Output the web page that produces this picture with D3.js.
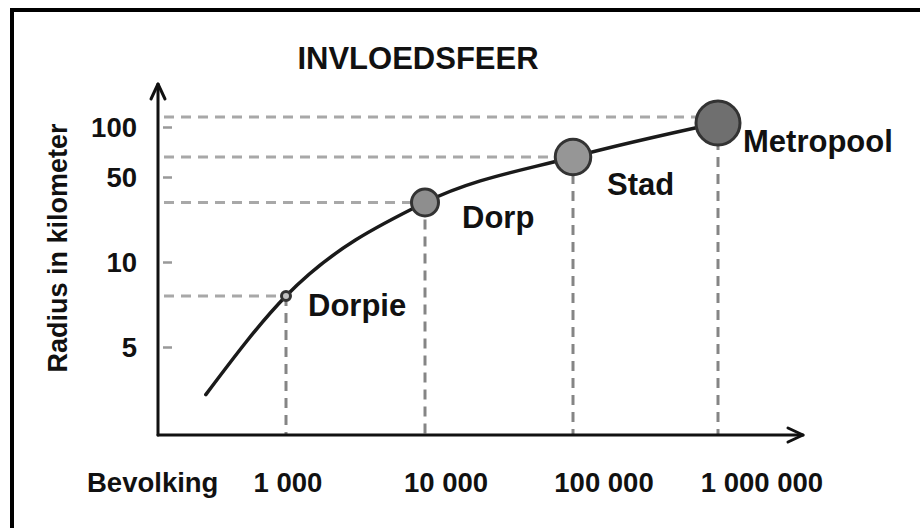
<!DOCTYPE html>
<html>
<head>
<meta charset="utf-8">
<script src="https://cdn.jsdelivr.net/npm/d3@7"></script>
<style>
  html, body { margin: 0; padding: 0; background: #fff; }
  svg { display: block; }
  text { font-family: "Liberation Sans", Arial, sans-serif; font-weight: bold; fill: #111; }
</style>
</head>
<body>
<svg id="chart" width="920" height="528"></svg>
<script>
// ---- data ----
const settlements = ["Dorpie", "Dorp", "Stad", "Metropool"];
const population = [1000, 10000, 100000, 1000000];
const radiusKm = [8, 38, 70, 104];
const guideKm = [8, 38, 70, 110];
const yTicks = [5, 10, 50, 100];
const xTickLabels = ["1 000", "10 000", "100 000", "1 000 000"];
const curvePopulation = [265, 1000, 10000, 100000, 1000000];
const curveRadius = [2.2, 8, 38, 70, 104];
const titleText = "INVLOEDSFEER";
const yTitle = "Radius in kilometer";
const xTitle = "Bevolking";

// ---- layout ----
const svg = d3.select("#chart");
const axisX0 = 158, axisY0 = 435;

const x = d3.scaleLog().domain([1e3, 1e4, 1e5, 1e6]).range([286, 425, 573, 718]);
const xLabel = d3.scaleLog().domain([1e3, 1e6]).range([288, 762]);
const y = d3.scaleLinear().domain([5, 10, 50, 100]).range([347, 262, 177, 127]);
const r = d3.scaleLog().domain([1e3, 1e4, 1e6]).range([6, 15, 23.5]);
const fill = d3.scaleLog().domain([1e3, 1e4, 1e5, 1e6])
  .range(["#c2c2c2", "#8e8e8e", "#969696", "#6f6f6f"]);

// frame (only top and left visible)
svg.append("rect").attr("x", 12).attr("y", 10).attr("width", 1000).attr("height", 1000)
  .attr("fill", "none").attr("stroke", "#000").attr("stroke-width", 4);

// title
svg.append("text").attr("x", 418).attr("y", 69).attr("text-anchor", "middle")
  .style("font-size", "31px").text(titleText);

// y title
svg.append("text").attr("transform", "translate(67,248) rotate(-90)")
  .attr("text-anchor", "middle").style("font-size", "27px").text(yTitle);

// x title
svg.append("text").attr("x", 87).attr("y", 492).style("font-size", "27.5px").text(xTitle);

// horizontal dashed guides
svg.append("g").selectAll("line").data(settlements).join("line")
  .attr("x1", 164).attr("x2", (d, i) => x(population[i]))
  .attr("y1", (d, i) => y(guideKm[i])).attr("y2", (d, i) => y(guideKm[i]))
  .attr("stroke", "#a8a8a8").attr("stroke-width", 3).attr("stroke-dasharray", "10,7");

// vertical dashed guides
svg.append("g").selectAll("line").data(settlements).join("line")
  .attr("x1", (d, i) => x(population[i])).attr("x2", (d, i) => x(population[i]))
  .attr("y1", (d, i) => y(radiusKm[i])).attr("y2", axisY0)
  .attr("stroke", "#858585").attr("stroke-width", 3).attr("stroke-dasharray", "10,7");

// y ticks (small gray marks)
const yTickG = svg.append("g").attr("transform", `translate(${axisX0 + 5},0)`)
  .call(d3.axisRight(y).tickValues(yTicks).tickSize(9).tickFormat(""));
yTickG.select(".domain").remove();
yTickG.selectAll("line").attr("stroke", "#999").attr("stroke-width", 2.5);

// y tick labels
const yLabG = svg.append("g").attr("transform", "translate(137,0)")
  .call(d3.axisLeft(y).tickValues(yTicks).tickSize(0).tickPadding(0).tickFormat(d3.format("d")));
yLabG.select(".domain").remove();
yLabG.selectAll("text").attr("dy", "0.36em").attr("fill", "#111")
  .style("font-size", "27.5px").style("font-family", '"Liberation Sans", Arial, sans-serif')
  .style("font-weight", "bold");

// x tick labels
svg.append("g").selectAll("text").data(population).join("text")
  .attr("x", d => xLabel(d)).attr("y", 492).attr("text-anchor", "middle")
  .style("font-size", "27.5px").text((d, i) => xTickLabels[i]);

// axes with arrows
const axisStyle = sel => sel.attr("fill", "none").attr("stroke", "#111")
  .attr("stroke-width", 3).attr("stroke-linecap", "round").attr("stroke-linejoin", "round");
svg.append("path").attr("d", `M${axisX0},${axisY0}V84`).call(axisStyle);
svg.append("path").attr("d", `M${axisX0 - 7},99L${axisX0},84L${axisX0 + 7},99`).call(axisStyle);
svg.append("path").attr("d", `M${axisX0},${axisY0}H803`).call(axisStyle);
svg.append("path").attr("d", `M788,${axisY0 - 7}L803,${axisY0}L788,${axisY0 + 7}`).call(axisStyle);

// curve
const line = d3.line().x(d => x(d[0])).y(d => y(d[1])).curve(d3.curveMonotoneX);
svg.append("path").datum(curvePopulation.map((p, i) => [p, curveRadius[i]]))
  .attr("d", line).attr("fill", "none").attr("stroke", "#1a1a1a")
  .attr("stroke-width", 3.5).attr("stroke-linecap", "round");

// circles
svg.append("g").selectAll("circle").data(settlements).join("circle")
  .attr("cx", (d, i) => x(population[i])).attr("cy", (d, i) => y(radiusKm[i]))
  .attr("r", (d, i) => r(population[i]) - 1.5)
  .attr("fill", (d, i) => fill(population[i])).attr("stroke", "#333").attr("stroke-width", 3);

// point labels
const labelOffsets = { Dorpie: [22, 20], Dorp: [37, 25], Stad: [34, 38], Metropool: [25, 29] };
svg.append("g").selectAll("text").data(settlements).join("text")
  .attr("x", (d, i) => x(population[i]) + labelOffsets[d][0])
  .attr("y", (d, i) => y(radiusKm[i]) + labelOffsets[d][1])
  .style("font-size", "31px").text(d => d);
</script>
</body>
</html>
